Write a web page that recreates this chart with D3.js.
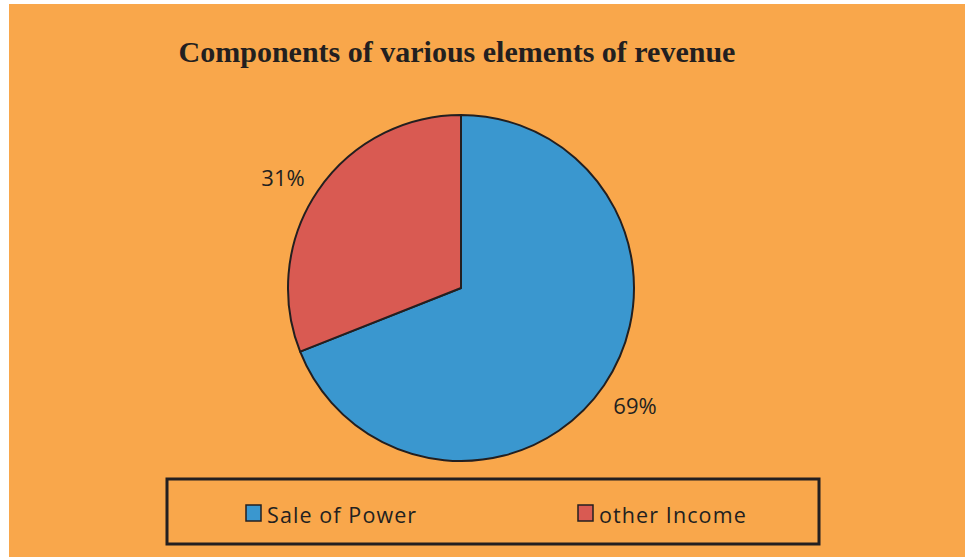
<!DOCTYPE html>
<html>
<head>
<meta charset="utf-8">
<script src="https://cdn.jsdelivr.net/npm/d3@7"></script>
<style>
  body { margin: 0; background: #fff; }
</style>
</head>
<body>
<svg class="svg-pie" width="965" height="557"></svg>
<script>
// data
const categories = ["Sale of Power", "other Income"]
const shares = [69, 31]
const colors = ["#3a97cf", "#d95a52"]

const width = 965, height = 557
const svg = d3.select(".svg-pie")

// orange panel (thin white strip top and left like the scan)
svg.append("rect")
  .attr("x", 9).attr("y", 4)
  .attr("width", width - 9).attr("height", height - 4)
  .attr("fill", "#f9a74b")

svg.append("text")
  .attr("x", 457).attr("y", 62)
  .attr("text-anchor", "middle")
  .style("font", "bold 30px 'Liberation Serif', serif")
  .attr("fill", "#231f20")
  .text("Components of various elements of revenue")

const radius = 173
const g = svg.append("g")
  .attr("transform", "translate(461,288)")

const pie = d3.pie().sort(null).value(d => d)
const arcs = pie(shares)
const arc = d3.arc().innerRadius(0).outerRadius(radius)

g.selectAll("path")
  .data(arcs)
  .join("path")
    .attr("d", arc)
    .attr("fill", (d, i) => colors[i])
    .attr("stroke", "#231f20")
    .attr("stroke-width", 2)
    .attr("stroke-linejoin", "round")

// percent labels outside the pie
const labelPos = [[174, 118], [-178, -110]]
g.selectAll("text.pct")
  .data(arcs)
  .join("text")
    .attr("class", "pct")
    .attr("x", (d, i) => labelPos[i][0])
    .attr("y", (d, i) => labelPos[i][1])
    .attr("text-anchor", "middle")
    .attr("dy", "0.35em")
    .style("font", "22px 'Open Sans', sans-serif")
    .attr("fill", "#231f20")
    .text(d => d3.format(".0f")(d.value) + "%")

// legend box
svg.append("rect")
  .attr("x", 167).attr("y", 479)
  .attr("width", 652).attr("height", 65)
  .attr("fill", "none")
  .attr("stroke", "#231f20")
  .attr("stroke-width", 3)

const legendX = d3.scalePoint().domain(categories).range([246, 578])
const item = svg.selectAll("g.leg")
  .data(categories)
  .join("g")
    .attr("class", "leg")
    .attr("transform", d => `translate(${legendX(d)},505)`)

item.append("rect")
  .attr("width", 15).attr("height", 16)
  .attr("fill", (d, i) => colors[i])
  .attr("stroke", "#231f20")
  .attr("stroke-width", 1.5)

item.append("text")
  .attr("x", 21).attr("y", 18)
  .style("font", "21.5px 'Open Sans', sans-serif")
  .style("letter-spacing", "1.1px")
  .attr("fill", "#231f20")
  .text(d => d)
</script>
</body>
</html>
